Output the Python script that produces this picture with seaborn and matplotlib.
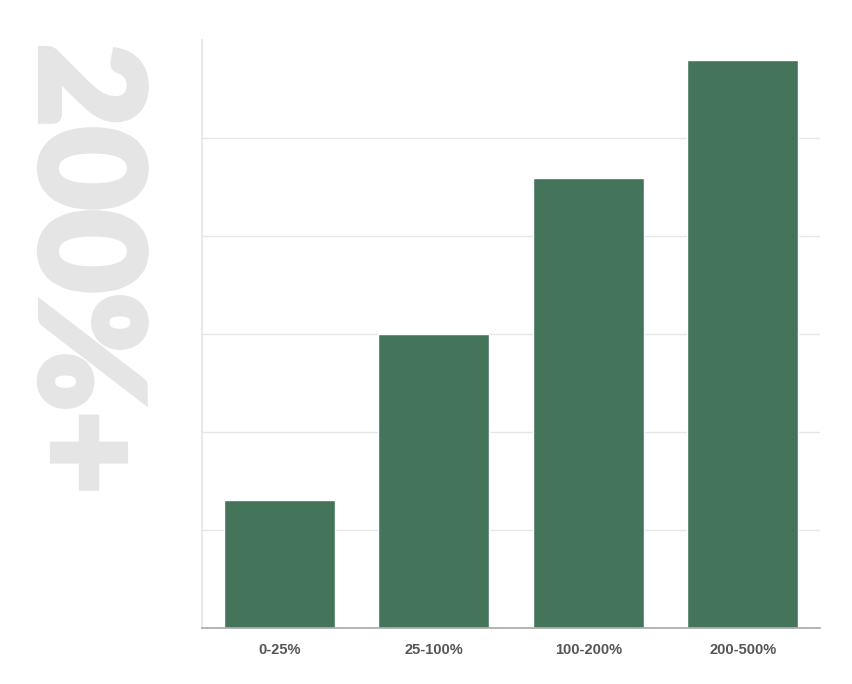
import matplotlib
matplotlib.use("Agg")
import matplotlib.pyplot as plt
import matplotlib.patheffects as pe
import seaborn as sns
import pandas as pd

# Data (y axis has no labels; units = gridline steps)
categories = ["0-25%", "25-100%", "100-200%", "200-500%"]
values = [1.31, 3.0, 4.59, 5.80]

df = pd.DataFrame({"range": categories, "value": values})

sns.set_theme(style="white")
fig = plt.figure(figsize=(8.52, 6.84), dpi=100)
ax = fig.add_axes([0.2371, 0.0819, 0.7253, 0.8596])

sns.barplot(data=df, x="range", y="value", color="#44745a", saturation=1,
            width=0.72, ax=ax)

ax.set_ylim(0, 6)
ax.set_xlim(-0.5, 3.5)
ax.set_yticks([1, 2, 3, 4, 5])
ax.set_yticklabels([])
ax.tick_params(axis="y", length=0)
ax.tick_params(axis="x", length=0, pad=11)
ax.yaxis.grid(True, color="#e6e6e6", linewidth=1)
ax.set_axisbelow(True)
ax.set_xlabel("")
ax.set_ylabel("")

for lab in ax.get_xticklabels():
    lab.set_fontfamily("Liberation Sans")
    lab.set_fontweight("bold")
    lab.set_fontsize(10.5)
    lab.set_color("#555555")

sns.despine(ax=ax, top=True, right=True)
ax.spines["left"].set_color("#e6e6e6")
ax.spines["bottom"].set_color("#aaaaaa")

# big decorative label on the left
fig.text(0.0968, 0.6067, "200%+", rotation=-90, ha="center", va="center",
         fontsize=103, fontweight="black", family=["Lato", "DejaVu Sans"],
         color="#e5e5e5",
         path_effects=[pe.withStroke(linewidth=4.3, foreground="#e5e5e5",
                                     joinstyle="miter")])

fig.savefig("out.png", dpi=100)
